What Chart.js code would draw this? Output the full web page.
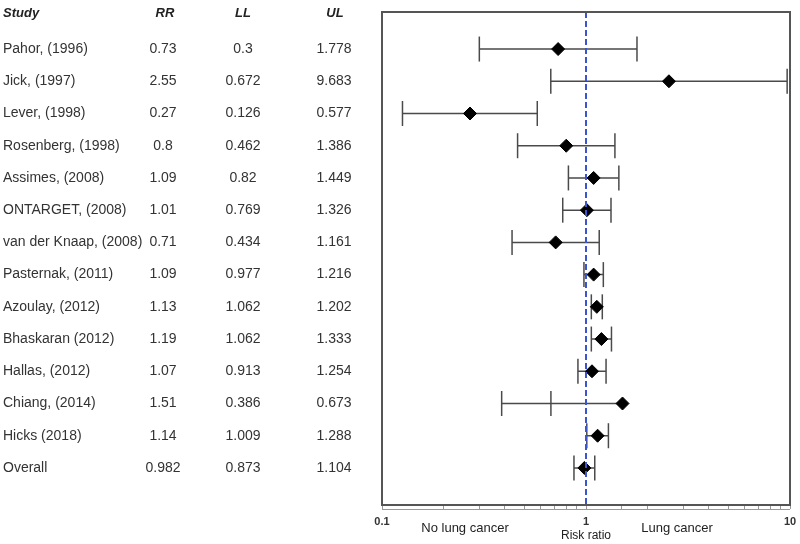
<!DOCTYPE html>
<html>
<head>
<meta charset="utf-8">
<script src="https://cdn.jsdelivr.net/npm/chart.js@4"></script>
<style>
  html, body { margin: 0; padding: 0; background: #fff; }
</style>
</head>
<body>
<canvas id="forest" width="800" height="544"></canvas>
<script>
// datos del forest plot
let studies = ["Pahor, (1996)", "Jick, (1997)", "Lever, (1998)", "Rosenberg, (1998)", "Assimes, (2008)",
               "ONTARGET, (2008)", "van der Knaap, (2008)", "Pasternak, (2011)", "Azoulay, (2012)",
               "Bhaskaran (2012)", "Hallas, (2012)", "Chiang, (2014)", "Hicks (2018)", "Overall"];
let rr = [0.73, 2.55, 0.27, 0.8, 1.09, 1.01, 0.71, 1.09, 1.13, 1.19, 1.07, 1.51, 1.14, 0.982];
let ll = [0.3, 0.672, 0.126, 0.462, 0.82, 0.769, 0.434, 0.977, 1.062, 1.062, 0.913, 0.386, 1.009, 0.873];
let ul = [1.778, 9.683, 0.577, 1.386, 1.449, 1.326, 1.161, 1.216, 1.202, 1.333, 1.254, 0.673, 1.288, 1.104];
let headers = ["Study", "RR", "LL", "UL"];
let tickLabels = [0.1, 1, 10];
let nullValue = 1;

const fontName = "Arial, 'Liberation Sans', sans-serif";

// lineas de intervalo (de min a max, con cortes entre filas)
const lineData = [];
studies.forEach((s, i) => {
  lineData.push({ x: Math.min(ll[i], rr[i]), y: i });
  lineData.push({ x: Math.max(ul[i], rr[i]), y: i });
  lineData.push({ x: null, y: null });
});
const capData = [];
studies.forEach((s, i) => {
  capData.push({ x: ll[i], y: i });
  capData.push({ x: ul[i], y: i });
});
const pointData = studies.map((s, i) => ({ x: rr[i], y: i }));

// plugin: tabla de la izquierda, caja, linea nula y textos de abajo
const forestPlugin = {
  id: "forestPlugin",
  afterDatasetsDraw(chart) {
    const ctx = chart.ctx;
    const xs = chart.scales.x;
    const a = chart.chartArea;
    ctx.save();
    // linea nula punteada
    const x1 = xs.getPixelForValue(nullValue);
    ctx.strokeStyle = "#3a55d0";
    ctx.lineWidth = 2;
    ctx.setLineDash([6, 3]);
    ctx.beginPath();
    ctx.moveTo(x1, a.top);
    ctx.lineTo(x1, a.bottom);
    ctx.stroke();
    ctx.setLineDash([]);
    // caja
    ctx.strokeStyle = "#555";
    ctx.lineWidth = 2;
    ctx.strokeRect(a.left, a.top, a.right - a.left, a.bottom - a.top);
    // eje
    ctx.strokeStyle = "#999";
    ctx.lineWidth = 1;
    ctx.beginPath();
    ctx.moveTo(a.left, a.bottom + 4.5);
    ctx.lineTo(a.right, a.bottom + 4.5);
    ctx.stroke();
    ctx.restore();
  },
  afterDraw(chart) {
    const ctx = chart.ctx;
    const ys = chart.scales.y;
    const xs = chart.scales.x;
    const a = chart.chartArea;
    ctx.save();
    ctx.textBaseline = "middle";
    // encabezados
    ctx.fillStyle = "#222";
    ctx.font = "italic bold 13px " + fontName;
    const hy = a.top + 1;
    ctx.textAlign = "left";
    ctx.fillText(headers[0], 3, hy);
    ctx.textAlign = "center";
    ctx.fillText(headers[1], 165, hy);
    ctx.fillText(headers[2], 243, hy);
    ctx.fillText(headers[3], 335, hy);
    // filas
    ctx.font = "14px " + fontName;
    ctx.fillStyle = "#333";
    studies.forEach((s, i) => {
      const y = ys.getPixelForValue(i);
      ctx.textAlign = "left";
      ctx.fillText(s, 3, y);
      ctx.textAlign = "center";
      ctx.fillText(String(rr[i]), 163, y);
      ctx.fillText(String(ll[i]), 243, y);
      ctx.fillText(String(ul[i]), 334, y);
    });
    // etiquetas del eje x
    ctx.font = "bold 11px " + fontName;
    ctx.fillStyle = "#333";
    tickLabels.forEach((t) => {
      ctx.fillText(String(t), xs.getPixelForValue(t), a.bottom + 17);
    });
    // textos de abajo
    ctx.fillStyle = "#222";
    ctx.font = "13px " + fontName;
    ctx.fillText("No lung cancer", 465, 528);
    ctx.fillText("Lung cancer", 677, 528);
    ctx.font = "12px " + fontName;
    ctx.fillText("Risk ratio", xs.getPixelForValue(nullValue), 536);
    ctx.restore();
  }
};

function renderGrafica() {
  const myChart = document.getElementById("forest");
  new Chart(myChart, {
    type: "scatter",
    data: {
      datasets: [
        {
          data: pointData, pointStyle: "rectRot", pointRadius: 6.5, pointBorderWidth: 1,
          backgroundColor: "#000", borderColor: "#000", showLine: false, order: 1
        },
        {
          data: capData, pointStyle: "line", pointRadius: 12.5, rotation: 90, pointBorderWidth: 1.5,
          borderColor: "#4a4a4a", showLine: false, order: 2
        },
        {
          data: lineData, showLine: true, spanGaps: false, pointRadius: 0, borderWidth: 1.5,
          borderColor: "#4a4a4a", order: 3
        }
      ]
    },
    options: {
      responsive: false,
      animation: false,
      layout: { autoPadding: false, padding: { left: 382, right: 10, top: 12, bottom: 0 } },
      plugins: { legend: { display: false }, tooltip: { enabled: false } },
      scales: {
        x: {
          type: "logarithmic", min: 0.1, max: 10,
          border: { display: false },
          grid: { drawOnChartArea: false, tickLength: 4, color: "#999" },
          ticks: { display: false, autoSkip: false },
          afterFit: (scale) => { scale.height = 39; }
        },
        y: { type: "linear", reverse: true, min: -1.15, max: 14.15, display: false }
      }
    },
    plugins: [forestPlugin]
  });
}
renderGrafica();
</script>
</body>
</html>
